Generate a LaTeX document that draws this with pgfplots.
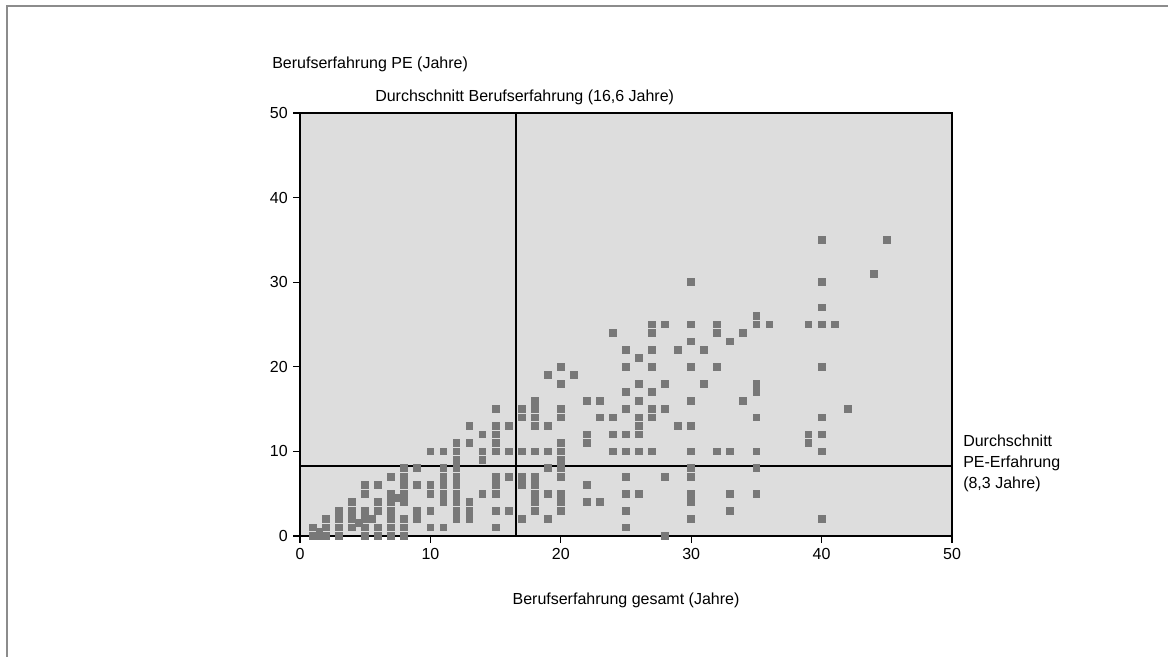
\documentclass[border=0pt]{standalone}
\usepackage{fontspec}
\setmainfont{Liberation Sans}
\usepackage{pgfplots}
\pgfplotsset{compat=1.18}
\definecolor{bgc}{HTML}{DDDDDD}
\definecolor{mk}{HTML}{787878}
\definecolor{fr}{HTML}{8C8C8C}
\begin{document}
\fontsize{12}{14.4}\selectfont
\begin{tikzpicture}
\useasboundingbox (-225pt,-90.75pt) rectangle (651pt,402pt);
\draw[fr, line width=1.5pt] (-219.75pt,-92pt) -- (-219.75pt,397.5pt) -- (652pt,397.5pt);
\begin{axis}[
  at={(0,0)}, anchor=south west,
  scale only axis, width=489pt, height=317.25pt,
  xmin=0, xmax=50, ymin=0, ymax=50,
  xtick={0,10,...,50}, ytick={0,10,...,50},
  xtick pos=left, ytick pos=left,
  tick align=outside, major tick length=5pt,
  axis background/.style={fill=bgc},
  axis line style={line width=1.2pt},
  tick style={black, line width=1pt},
  tick label style={font=\fontsize{12}{14.4}\selectfont},
  /pgf/number format/assume math mode=true,
  clip=false,
]
\addplot[black, line width=1.5pt] coordinates {(16.6,0) (16.6,50)};
\addplot[black, line width=1.4pt] coordinates {(0,8.3) (50,8.3)};
\addplot[only marks, color=mk, mark=square*, mark size=2.55pt, mark options={draw=mk, fill=mk, line width=0pt}] table {
x y
1 0
1 1
1.5 0
1.5 0.5
2 0
2 1
2 2
3 0
3 1
3 2
3 3
4 1
4 2
4 3
4 4
4.5 1.5
5 0
5 1
5 2
5 3
5 5
5 6
5.5 2
6 0
6 1
6 3
6 4
6 6
7 0
7 1
7 2
7 3
7 4
7 5
7 7
7.5 4.5
8 0
8 1
8 2
8 4
8 5
8 6
8 7
8 8
9 2
9 3
9 6
9 8
10 1
10 3
10 5
10 6
10 10
11 1
11 4
11 5
11 6
11 7
11 8
11 10
12 2
12 3
12 4
12 5
12 6
12 7
12 8
12 9
12 10
12 11
13 2
13 3
13 4
13 11
13 13
14 5
14 9
14 10
14 12
15 1
15 3
15 5
15 6
15 7
15 10
15 11
15 12
15 13
15 15
16 3
16 7
16 10
16 13
17 2
17 6
17 7
17 10
17 14
17 15
18 3
18 4
18 5
18 6
18 7
18 10
18 13
18 14
18 15
18 16
19 2
19 5
19 8
19 10
19 13
19 19
20 3
20 4
20 5
20 7
20 8
20 9
20 10
20 11
20 14
20 15
20 18
20 20
21 19
22 4
22 6
22 11
22 12
22 16
23 4
23 14
23 16
24 10
24 12
24 14
24 24
25 1
25 3
25 5
25 7
25 10
25 12
25 15
25 17
25 20
25 22
26 5
26 10
26 12
26 13
26 14
26 16
26 18
26 21
27 10
27 14
27 15
27 17
27 20
27 22
27 24
27 25
28 0
28 7
28 15
28 18
28 25
29 13
29 22
30 2
30 4
30 5
30 7
30 8
30 10
30 13
30 16
30 20
30 23
30 25
30 30
31 18
31 22
32 10
32 20
32 24
32 25
33 3
33 5
33 10
33 23
34 16
34 24
35 5
35 8
35 10
35 14
35 17
35 18
35 25
35 26
36 25
39 11
39 12
39 25
40 2
40 10
40 12
40 14
40 20
40 25
40 27
40 30
40 35
41 25
42 15
44 31
45 35
};
\end{axis}
\node[anchor=west, inner sep=0pt] at (-21pt,354pt) {Berufserfahrung PE (Jahre)};
\node[anchor=west, inner sep=0pt] at (56.25pt,329.25pt) {Durchschnitt Berufserfahrung (16,6 Jahre)};
\node[anchor=center, inner sep=0pt] at (244.5pt,-48pt) {Berufserfahrung gesamt (Jahre)};
\node[anchor=west, inner sep=0pt, align=left, font=\fontsize{12}{15.75}\selectfont] at (497.25pt,54.75pt) {Durchschnitt\\PE-Erfahrung\\(8,3 Jahre)};
\end{tikzpicture}
\end{document}
